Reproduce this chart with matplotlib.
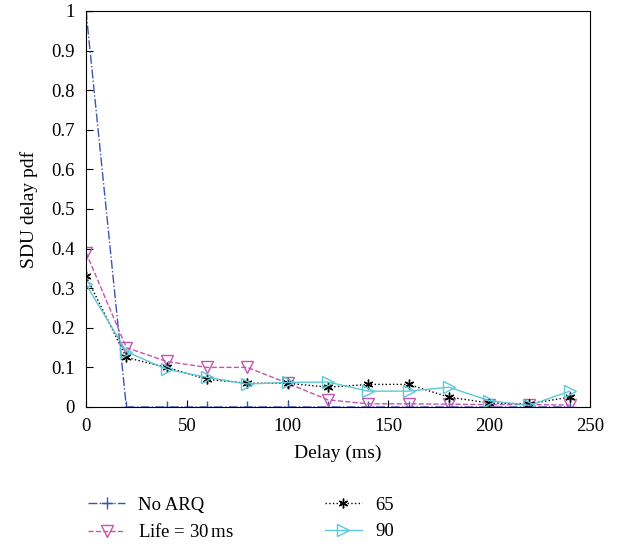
import numpy as np
import matplotlib
matplotlib.use("Agg")
import matplotlib.pyplot as plt

plt.rcParams['font.family'] = ['Liberation Serif', 'DejaVu Serif']

delay = [0, 20, 40, 60, 80, 100, 120, 140, 160, 180, 200, 220, 240]
no_arq = [1.0, 0, 0, 0, 0, 0, 0, 0, 0, 0, 0, 0, 0]
life_30 = [0.39, 0.15, 0.115, 0.10, 0.10, 0.06, 0.018, 0.008, 0.008, 0.007, 0.006, 0.006, 0.005]
life_65 = [0.33, 0.125, 0.10, 0.07, 0.06, 0.06, 0.05, 0.057, 0.057, 0.025, 0.01, 0.008, 0.025]
life_90 = [0.31, 0.14, 0.095, 0.075, 0.058, 0.062, 0.063, 0.04, 0.04, 0.05, 0.016, 0.004, 0.04]
yticklabels = ['0', '0.1', '0.2', '0.3', '0.4', '0.5', '0.6', '0.7', '0.8', '0.9', '1']

fig = plt.figure(figsize=(6.17, 5.46), dpi=100)
ax = fig.add_axes([0.1394, 0.2546, 0.8168, 0.7253])

ax.plot(delay, no_arq, color='#3a55b4', linestyle='-.', marker='+', markersize=8,
        linewidth=1, label='No ARQ')
ax.plot(delay, life_30, color='#c455b0', linestyle='--', marker='v', markersize=9,
        markerfacecolor='none', linewidth=1, label='Life = 30$\\,$ms')
ax.plot(delay, life_65, color='black', linestyle=':', marker=(6, 2, 0), markersize=7,
        linewidth=1, label='65')
ax.plot(delay, life_90, color='#5cc8d8', linestyle='-', marker='>', markersize=9,
        markerfacecolor='none', linewidth=1, label='90')

ax.set_xlim(0, 250)
ax.set_ylim(0, 1)
ax.set_xticks([0, 50, 100, 150, 200, 250])
ax.set_yticks(np.arange(0, 1.01, 0.1))
ax.set_yticklabels(yticklabels)
ax.tick_params(direction='in', labelsize=13.5, length=5, pad=8, top=False, right=False)
ax.set_xlabel('Delay (ms)', fontsize=14, labelpad=7)
ax.set_ylabel('SDU delay pdf', fontsize=14, labelpad=10)

ax.legend(loc='upper left', bbox_to_anchor=(71 / 617, 1 - 480 / 546),
          bbox_transform=fig.transFigure, ncol=2, frameon=False,
          fontsize=13.5, columnspacing=4.8, handlelength=2.0, handletextpad=0.7,
          labelspacing=0.5)

plt.savefig('out.png', dpi=100)
